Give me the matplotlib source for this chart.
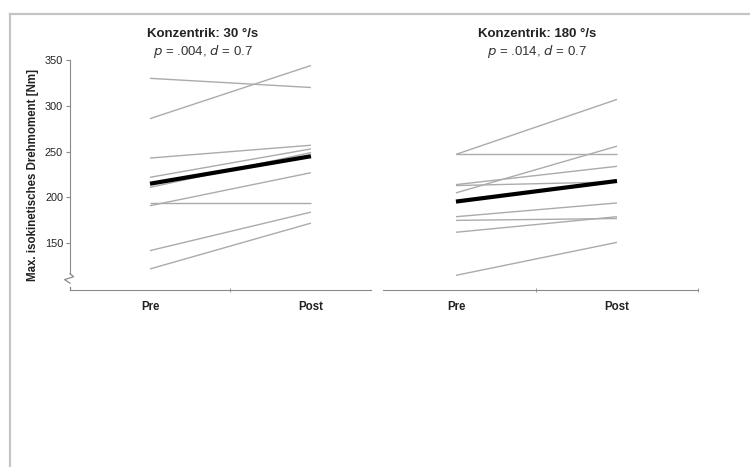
import matplotlib

matplotlib.use("Agg")
import matplotlib.pyplot as plt
from matplotlib.lines import Line2D

plt.rcParams["font.family"] = ["Liberation Sans", "DejaVu Sans"]

# x positions: Pre = 0, Post = 1
conditions = ["Pre", "Post"]

# Konzentrik 30 deg/s - individual subjects (pre, post) in Nm
left_pre = [330, 286, 243, 222, 211, 191, 194, 142, 122]
left_post = [320, 344, 257, 253, 249, 227, 194, 184, 172]
left_mean = [215, 245]

# Konzentrik 180 deg/s
right_pre = [247, 247, 205, 214, 213, 179, 175, 162, 115]
right_post = [307, 247, 256, 234, 217, 194, 177, 179, 151]
right_mean = [195.5, 218]

left_title = "Konzentrik: 30 °/s"
left_stats = r"$p$ = .004, $d$ = 0.7"
right_title = "Konzentrik: 180 °/s"
right_stats = r"$p$ = .014, $d$ = 0.7"
y_label = "Max. isokinetisches Drehmoment [Nm]"
y_ticks = [150, 200, 250, 300, 350]

GRAY = "#ababab"
AXIS = "#8a8a8a"

fig = plt.figure(figsize=(7.5, 4.67), dpi=100)

# grey frame around the figure (only top and left visible in the crop)
fig.add_artist(Line2D([10 / 750, 1.0], [1 - 14 / 467, 1 - 14 / 467],
                      transform=fig.transFigure, color="#c4c4c4", lw=1.6))
fig.add_artist(Line2D([10 / 750, 10 / 750], [0.0, 1 - 14 / 467],
                      transform=fig.transFigure, color="#c4c4c4", lw=1.6))

ax1 = fig.add_axes([70 / 750, 0.379, 301 / 750, 0.4925])
ax2 = fig.add_axes([383 / 750, 0.379, 315 / 750, 0.4925])


def _draw_panel(ax, pre, post, mean):
    for a, b in zip(pre, post):
        ax.plot([0, 1], [a, b], color=GRAY, lw=1.0, solid_capstyle="butt")
    ax.plot([0, 1], mean, color="black", lw=3.0, solid_capstyle="butt")
    ax.set_ylim(99, 350)
    for side in ["top", "right"]:
        ax.spines[side].set_visible(False)
    ax.spines["bottom"].set_color(AXIS)
    ax.spines["left"].set_color(AXIS)
    ax.tick_params(axis="x", length=0, pad=8)
    ax.tick_params(axis="y", length=3, color=AXIS, labelsize=7.8, pad=2,
                   labelcolor="#222222")
    ax.set_xticks([0, 1])
    ax.set_xticklabels(conditions, fontsize=8.3, fontweight="bold", color="#222222")
    ax.tick_params(axis="x", which="minor", length=3, color=AXIS, direction="inout")


_draw_panel(ax1, left_pre, left_post, left_mean)
ax1.set_xlim(-0.497, 1.373)
ax1.set_xticks([0.5], minor=True)
ax1.set_yticks(y_ticks)
ax1.spines["left"].set_bounds(117, 350)
ax1.set_ylabel(y_label, fontsize=8.3, fontweight="bold", color="#222222", labelpad=4)

# axis break mark between the y spine and the x axis
ax1.plot([0.0, 0.012, -0.018, 0.0], [0.071, 0.058, 0.045, 0.03],
         transform=ax1.transAxes, color=AXIS, lw=0.9, clip_on=False)
ax1.plot([0.0, 0.0], [0.0, 0.012], transform=ax1.transAxes, color=AXIS,
         lw=0.9, clip_on=False)

_draw_panel(ax2, right_pre, right_post, right_mean)
ax2.set_xlim(-0.453, 1.503)
ax2.spines["left"].set_visible(False)
ax2.set_yticks([])
ax2.set_xticks([0.5, 1.5], minor=True)

# panel titles
fig.text(203 / 750, 1 - 34 / 467, left_title, ha="center", va="center",
         fontsize=9.5, fontweight="bold", color="#222222")
fig.text(203 / 750, 1 - 52 / 467, left_stats, ha="center", va="center",
         fontsize=9.5, color="#333333")
fig.text(537 / 750, 1 - 34 / 467, right_title, ha="center", va="center",
         fontsize=9.5, fontweight="bold", color="#222222")
fig.text(537 / 750, 1 - 52 / 467, right_stats, ha="center", va="center",
         fontsize=9.5, color="#333333")

fig.savefig("out.png", dpi=100)
plt.close(fig)
